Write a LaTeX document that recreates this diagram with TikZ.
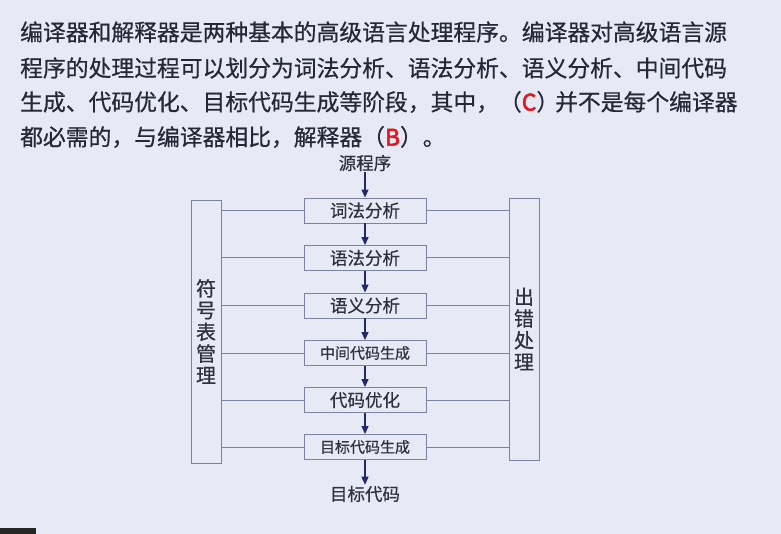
\documentclass[tikz,border=0pt]{standalone}
\usepackage{fontspec}
\setmainfont{Noto Sans CJK SC}[AutoFakeBold=2.5]
\newfontfamily\cjkmed{Noto Sans CJK SC}[FakeBold=0.6, AutoFakeBold=2.5]
\usetikzlibrary{arrows.meta}
\definecolor{bg}{HTML}{E7EAF5}
\definecolor{txt}{HTML}{262838}
\definecolor{dtxt}{HTML}{30313E}
\definecolor{edge}{HTML}{7C82A2}
\definecolor{navy}{HTML}{222A66}
\definecolor{ans}{HTML}{E8141C}
\tikzset{
  para/.style={anchor=west, inner sep=0pt, text=txt, font=\cjkmed\fontsize{22.8}{24}\selectfont},
  stage/.style={draw=edge, line width=0.9pt, minimum width=122pt, minimum height=25pt, inner sep=0pt, text=dtxt},
  bar/.style={draw=edge, line width=0.9pt, minimum width=30pt, inner sep=0pt, text=dtxt, align=center, font=\cjkmed\fontsize{20}{21.7}\selectfont},
  conn/.style={draw=edge, line width=1pt},
  arr/.style={draw=navy, line width=1.3pt, -{Triangle[length=8pt, width=7pt]}},
  lbl/.style={inner sep=1pt, text=dtxt, font=\cjkmed\fontsize{17.5}{19}\selectfont}
}
\begin{document}
\begin{tikzpicture}[x=1pt,y=-1pt]
\fill[bg] (0,0) rectangle (781,534);
\useasboundingbox (0,0) rectangle (781,534);
\fill[black!85] (0,528) rectangle (36,534);

\node[para] (l1) at (20,32) {编译器和解释器是两种基本的高级语言处理程序。编译器对高级语言源};
\node[para] (l2) at (20,68) {程序的处理过程可以划分为词法分析、语法分析、语义分析、中间代码};
\node[para] (l3) at (20,102) {生成、代码优化、目标代码生成等阶段，其中，（{\color{ans}\textbf{C}}）\hspace{-4pt}并不是每个编译器};
\node[para] (l4) at (20,137) {都必需的，与编译器相比，解释器（{\color{ans}\textbf{B}}）。};

\node[lbl] (src) at (365,163) {源程序};
\node[stage, font=\cjkmed\fontsize{17.5}{19}\selectfont] (s1) at (365,210.5) {词法分析};
\node[stage, font=\cjkmed\fontsize{17.5}{19}\selectfont] (s2) at (365,258) {语法分析};
\node[stage, font=\cjkmed\fontsize{17.5}{19}\selectfont] (s3) at (365,305.5) {语义分析};
\node[stage, font=\cjkmed\fontsize{15}{17}\selectfont] (s4) at (365,353) {中间代码生成};
\node[stage, font=\cjkmed\fontsize{17.5}{19}\selectfont] (s5) at (365,400) {代码优化};
\node[stage, font=\cjkmed\fontsize{15}{17}\selectfont] (s6) at (365,447) {目标代码生成};
\node[lbl] (dst) at (365,494) {目标代码};

\node[bar, minimum height=263pt] (L) at (206,331.5) {符\\号\\表\\管\\理};
\node[bar, minimum height=262pt] (R) at (524,329) {出\\错\\处\\理};

\draw[arr] (src) -- (s1);
\draw[arr] (s1) -- (s2);
\draw[arr] (s2) -- (s3);
\draw[arr] (s3) -- (s4);
\draw[arr] (s4) -- (s5);
\draw[arr] (s5) -- (s6);
\draw[arr] (s6) -- (dst);

\foreach \s in {s1,s2,s3,s4,s5,s6}{
  \draw[conn] (L.east |- \s.west) -- (\s.west);
  \draw[conn] (\s.east) -- (R.west |- \s.east);
}
\end{tikzpicture}
\end{document}
